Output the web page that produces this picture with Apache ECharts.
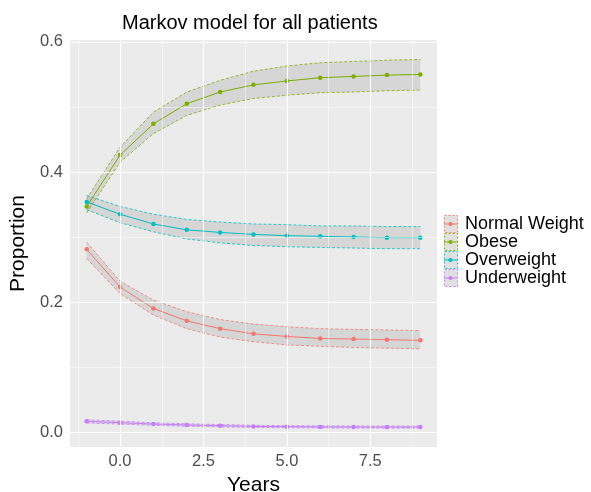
<!DOCTYPE html>
<html>
<head>
<meta charset="utf-8">
<script src="https://cdn.jsdelivr.net/npm/echarts@6/dist/echarts.min.js"></script>
<style>
  html, body { margin: 0; padding: 0; background: #fff; }
  #chart { width: 591px; height: 492px; }
</style>
</head>
<body>
<div id="chart"></div>
<script>
const chart = echarts.init(document.getElementById("chart"));

// data
const years = [-1, 0, 1, 2, 3, 4, 5, 6, 7, 8, 9];

const normalMean = [0.281, 0.223, 0.190, 0.171, 0.159, 0.151, 0.147, 0.144, 0.143, 0.142, 0.141];
const normalLower = [0.267, 0.213, 0.180, 0.159, 0.146, 0.139, 0.134, 0.132, 0.130, 0.129, 0.128];
const normalUpper = [0.292, 0.232, 0.203, 0.185, 0.173, 0.166, 0.162, 0.159, 0.158, 0.157, 0.156];

const obeseMean = [0.347, 0.426, 0.474, 0.505, 0.523, 0.534, 0.540, 0.545, 0.547, 0.549, 0.550];
const obeseLower = [0.337, 0.415, 0.459, 0.487, 0.503, 0.513, 0.518, 0.522, 0.523, 0.525, 0.526];
const obeseUpper = [0.359, 0.438, 0.492, 0.523, 0.541, 0.555, 0.563, 0.568, 0.570, 0.572, 0.573];

const overMean = [0.354, 0.335, 0.320, 0.311, 0.307, 0.304, 0.302, 0.301, 0.300, 0.299, 0.299];
const overLower = [0.342, 0.322, 0.308, 0.297, 0.291, 0.287, 0.285, 0.284, 0.283, 0.282, 0.282];
const overUpper = [0.364, 0.347, 0.335, 0.327, 0.323, 0.320, 0.319, 0.317, 0.317, 0.316, 0.316];

const underMean = [0.0165, 0.0144, 0.0123, 0.0108, 0.0097, 0.0087, 0.0082, 0.0079, 0.0077, 0.0077, 0.0077];
const underLower = [0.0140, 0.0122, 0.0103, 0.0089, 0.0079, 0.0071, 0.0066, 0.0063, 0.0062, 0.0061, 0.0061];
const underUpper = [0.0190, 0.0166, 0.0143, 0.0127, 0.0115, 0.0104, 0.0098, 0.0095, 0.0093, 0.0093, 0.0093];

const xTicks = [0, 2.5, 5, 7.5];
const xMinor = [-1.25, 1.25, 3.75, 6.25, 8.75];
const yTicks = [0, 0.2, 0.4, 0.6];
const yMinor = [0.1, 0.3, 0.5];

const groups = [
  { name: "Normal Weight", color: "#F8766D", mean: normalMean, lower: normalLower, upper: normalUpper },
  { name: "Obese", color: "#7CAE00", mean: obeseMean, lower: obeseLower, upper: obeseUpper },
  { name: "Overweight", color: "#00BFC4", mean: overMean, lower: overLower, upper: overUpper },
  { name: "Underweight", color: "#C77CFF", mean: underMean, lower: underLower, upper: underUpper },
];

const font = "'Liberation Sans', Arial, sans-serif";
const ribbonFill = "rgba(128,128,128,0.2)";

function pairs(values) {
  return years.map((x, i) => [x, values[i]]);
}

// white panel grid lines, ggplot style
const gridLines = [];
xTicks.forEach((v) => gridLines.push({ xAxis: v, lineStyle: { width: 1.1 } }));
yTicks.forEach((v) => gridLines.push({ yAxis: v, lineStyle: { width: 1.1 } }));
xMinor.forEach((v) => gridLines.push({ xAxis: v, lineStyle: { width: 0.5 } }));
yMinor.forEach((v) => gridLines.push({ yAxis: v, lineStyle: { width: 0.5 } }));

const series = [
  {
    type: "line",
    name: "grid",
    data: [],
    z: 1,
    silent: true,
    markLine: {
      silent: true,
      symbol: "none",
      label: { show: false },
      lineStyle: { color: "#FFFFFF", type: "solid" },
      emphasis: { disabled: true },
      animation: false,
      data: gridLines,
    },
  },
];

// ribbon: grey band with dashed coloured edges, drawn once from the whole group
function ribbonRenderer(g) {
  return function (params, api) {
    if (params.dataIndex !== 0) return;
    const up = years.map((x, i) => api.coord([x, g.upper[i]]));
    const lo = years.map((x, i) => api.coord([x, g.lower[i]]));
    const edge = { stroke: g.color, lineWidth: 0.8, lineDash: [3, 2], fill: null };
    return {
      type: "group",
      children: [
        { type: "polygon", shape: { points: up.concat(lo.slice().reverse()) }, style: { fill: ribbonFill } },
        { type: "polyline", shape: { points: up }, style: edge },
        { type: "polyline", shape: { points: lo }, style: edge },
      ],
    };
  };
}

groups.forEach((g) => {
  series.push({
    type: "custom",
    name: g.name + " band",
    data: years.map((x, i) => [x, g.lower[i], g.upper[i]]),
    encode: { x: 0, y: [1, 2] },
    renderItem: ribbonRenderer(g),
    silent: true,
    z: 2,
  });
});

groups.forEach((g) => {
  series.push({
    type: "line",
    name: g.name,
    data: pairs(g.mean),
    symbol: "circle",
    symbolSize: 4.5,
    z: 3,
    itemStyle: { color: g.color },
    lineStyle: { color: g.color, width: 1 },
  });
});

// legend key: grey box with dashed border, line with a dot on top
const lineDotIcon =
  "path://M0,0 L0.01,0 L0,0.01 Z M13,17 L12.99,17 L13,16.99 Z " +
  "M0,8 L13,8 L13,9 L0,9 Z M8.6,8.5 A2.1,2.1 0 1 1 4.4,8.5 A2.1,2.1 0 1 1 8.6,8.5 Z";

const legendBase = {
  orient: "vertical",
  left: 444,
  top: 215,
  padding: 0,
  itemGap: 0,
  itemWidth: 13,
  itemHeight: 17,
  selectedMode: false,
};

const option = {
  animation: false,
  backgroundColor: "#FFFFFF",
  title: {
    text: "Markov model for all patients",
    left: 122,
    top: 13,
    padding: 0,
    textStyle: { fontFamily: font, fontSize: 20, fontWeight: "normal", color: "#000000", lineHeight: 20 },
  },
  grid: {
    left: 70,
    right: 154,
    top: 40,
    bottom: 45,
    show: true,
    backgroundColor: "#EBEBEB",
    borderWidth: 0,
    containLabel: false,
    outerBoundsMode: "none",
  },
  legend: [
    Object.assign({}, legendBase, {
      z: 3,
      icon: "rect",
      data: groups.map((g) => ({
        name: g.name,
        itemStyle: { color: "#E0E0E0", borderColor: g.color, borderWidth: 1, borderType: [2, 2] },
      })),
      textStyle: { fontFamily: font, fontSize: 18, lineHeight: 17, color: "rgba(0,0,0,0)", padding: [0, 0, 0, 3] },
    }),
    Object.assign({}, legendBase, {
      z: 4,
      data: groups.map((g) => ({
        name: g.name,
        icon: lineDotIcon,
        itemStyle: { color: g.color, borderWidth: 0 },
      })),
      textStyle: { fontFamily: font, fontSize: 18, lineHeight: 17, color: "#000000", padding: [0, 0, 0, 3] },
    }),
  ],
  xAxis: {
    type: "value",
    min: -1.5,
    max: 9.5,
    name: "Years",
    nameLocation: "middle",
    nameGap: 26,
    nameTextStyle: { fontFamily: font, fontSize: 21, color: "#000000" },
    axisLine: { show: false },
    splitLine: { show: false },
    axisTick: { show: true, customValues: xTicks, length: 4, lineStyle: { color: "#333333" } },
    axisLabel: {
      customValues: xTicks,
      margin: 6,
      fontFamily: font,
      fontSize: 16.5,
      color: "#4D4D4D",
      formatter: (v) => v.toFixed(1),
    },
  },
  yAxis: {
    type: "value",
    min: -0.023,
    max: 0.603,
    name: "Proportion",
    nameLocation: "middle",
    nameGap: 37,
    nameTextStyle: { fontFamily: font, fontSize: 21, color: "#000000" },
    axisLine: { show: false },
    splitLine: { show: false },
    axisTick: { show: true, customValues: yTicks, length: 4, lineStyle: { color: "#333333" } },
    axisLabel: {
      customValues: yTicks,
      margin: 7,
      fontFamily: font,
      fontSize: 16.5,
      color: "#4D4D4D",
      formatter: (v) => v.toFixed(1),
    },
  },
  series: series,
};

chart.setOption(option);
</script>
</body>
</html>
